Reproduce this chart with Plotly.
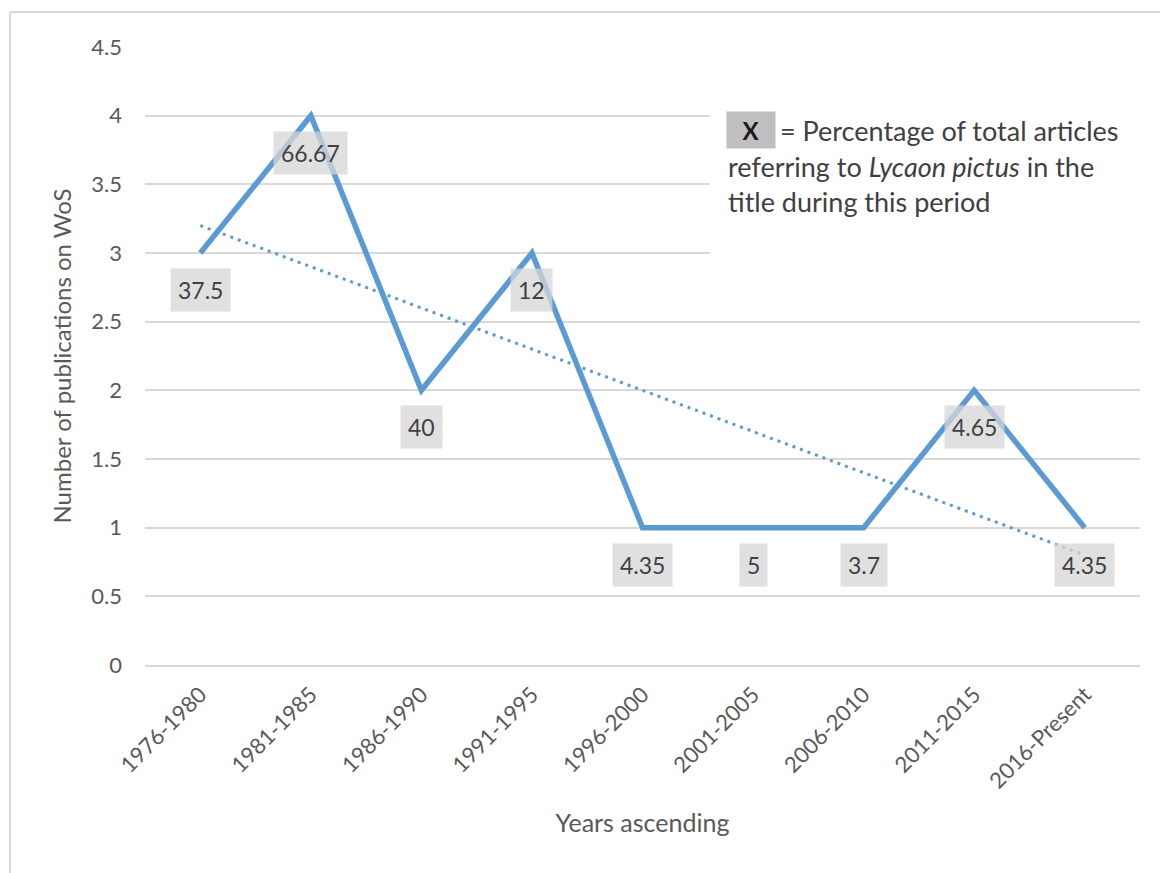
import plotly.graph_objects as go
import numpy as np

categories = ["1976-1980", "1981-1985", "1986-1990", "1991-1995", "1996-2000",
              "2001-2005", "2006-2010", "2011-2015", "2016-Present"]
publications = [3, 4, 2, 3, 1, 1, 1, 2, 1]
percent_labels = ["37.5", "66.67", "40", "12", "4.35", "5", "3.7", "4.65", "4.35"]
y_ticks = [0, 0.5, 1, 1.5, 2, 2.5, 3, 3.5, 4, 4.5]

FONT = "Lato"
GREY_TXT = "#595959"
BLUE = "#5B9BD5"

# linear trendline (least squares) computed from the data
xi = np.arange(len(publications))
slope, intercept = np.polyfit(xi, publications, 1)
trend = slope * xi + intercept

fig = go.Figure()
fig.add_trace(go.Scatter(x=categories, y=publications, mode="lines",
                         line=dict(color=BLUE, width=5.5), showlegend=False,
                         hoverinfo="skip"))
fig.add_trace(go.Scatter(x=categories, y=trend, mode="lines",
                         line=dict(color=BLUE, width=3, dash="3px,5px"),
                         showlegend=False, hoverinfo="skip"))

for c, v, t in zip(categories, publications, percent_labels):
    fig.add_annotation(x=c, y=v, xref="x", yref="y", text=t, showarrow=False,
                       yshift=-37, bgcolor="rgba(214,214,214,0.75)", borderpad=7,
                       font=dict(family=FONT, size=23, color="#404040"))

# plot area in px (relative to page): left 145, top 47, width 995, height 618
PW, PH = 995.0, 618.0
def px(xp):  # page x -> paper
    return (xp - 145) / PW
def py(yp):  # page y -> paper
    return (665 - yp) / PH

# chart border (left and top)
fig.add_shape(type="line", xref="paper", yref="paper", x0=px(10), x1=px(10),
              y0=py(900), y1=py(12), line=dict(color="#d9d9d9", width=2))
fig.add_shape(type="line", xref="paper", yref="paper", x0=px(10), x1=px(1200),
              y0=py(12), y1=py(12), line=dict(color="#d9d9d9", width=2))

# white text box covering gridlines
fig.add_shape(type="rect", xref="paper", yref="paper", x0=px(710), x1=px(1150),
              y0=py(259), y1=py(98), fillcolor="white", line=dict(width=0),
              layer="above")

TXT = dict(family=FONT, size=27, color="#404040")
fig.add_annotation(xref="paper", yref="paper", x=px(751), y=py(130),
                   xanchor="center", yanchor="middle", text="<b>X</b>",
                   showarrow=False, bgcolor="#bfbfbf", width=34, height=22,
                   borderpad=7, font=dict(family=FONT, size=24, color="#1a1a1a"))
fig.add_annotation(xref="paper", yref="paper", x=px(778), y=py(130),
                   xanchor="left", yanchor="middle",
                   text="= Percentage of total articles", showarrow=False, font=TXT)
fig.add_annotation(xref="paper", yref="paper", x=px(726), y=py(166),
                   xanchor="left", yanchor="middle",
                   text="referring to <i>Lycaon pictus</i> in the",
                   showarrow=False, font=TXT)
fig.add_annotation(xref="paper", yref="paper", x=px(726), y=py(202),
                   xanchor="left", yanchor="middle",
                   text="title during this period", showarrow=False, font=TXT)

fig.update_layout(
    width=1160, height=865,
    margin=dict(l=137, r=28, t=39, b=208),
    paper_bgcolor="white", plot_bgcolor="white",
    font=dict(family=FONT, color=GREY_TXT),
)
fig.update_xaxes(
    type="category", range=[-0.5, 8.5], tickangle=-45,
    tickfont=dict(family=FONT, size=22, color=GREY_TXT),
    showgrid=False, showline=True, linecolor="#d9d9d9", linewidth=2,
    ticks="", ticklabelstandoff=6,
    title=dict(text="Years ascending", font=dict(family=FONT, size=25, color=GREY_TXT),
               standoff=22),
    automargin=True,
)
fig.update_yaxes(
    range=[0, 4.5], tickvals=y_ticks, ticktext=[f"{v:g}" for v in y_ticks],
    tickfont=dict(family=FONT, size=22, color=GREY_TXT),
    showgrid=True, gridcolor="#d9d9d9", gridwidth=2, zeroline=False,
    ticks="", ticklabelstandoff=22,
    title=dict(text="Number of publications on WoS",
               font=dict(family=FONT, size=24, color=GREY_TXT), standoff=12),
    automargin=True,
)

fig.write_html("out.html")
